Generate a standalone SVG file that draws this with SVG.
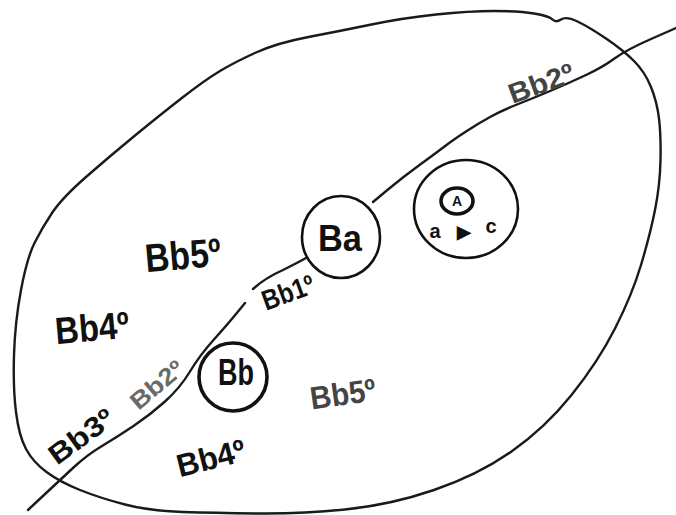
<svg xmlns="http://www.w3.org/2000/svg" width="676" height="515" viewBox="0 0 676 515">
<style>
.ln{fill:none;stroke:#1a1a1a;stroke-width:2.4;stroke-linecap:round;stroke-linejoin:round}
.ring{fill:none;stroke:#111;stroke-width:2.6}
.thick{fill:none;stroke:#111;stroke-width:3.6}
.lbl{font-family:"Liberation Sans",Arial,sans-serif;font-weight:bold;fill:#111}
.faint{fill:#6a6a6a}
.mid{fill:#444}
</style>
<rect width="676" height="515" fill="#fff"/>
<g id="region">
<path class="ln" d="M 256,52.5 Q 277,43 308.5,37 Q 340,31 371.5,24.5 Q 403,18 436,14.5 Q 469,11 494,11 Q 519,11 534,13.5 Q 549,16 552.5,19.5 Q 556,23 561,19.5 Q 566,16 577.5,21.5 Q 589,27 606,38.5 Q 623,50 634,61 Q 645,72 651,87 Q 657,102 659,118.5 Q 661,135 660.5,160 Q 660,185 655,210 Q 650,235 641,265 Q 632,295 615,328.5 Q 598,362 571.5,395 Q 545,428 511.5,451.5 Q 478,475 434,490 Q 390,505 345,509.5 Q 300,514 257.5,513.5 Q 215,513 182.5,512 Q 150,511 125,504.5 Q 100,498 80,490 Q 60,482 46.5,472 Q 33,462 26,449 Q 19,436 16,412 Q 13,388 14,355 Q 15,322 21,290 Q 27,258 34.5,243 Q 42,228 52,213 Q 62,198 86,177 Q 110,156 135,135.5 Q 160,115 182.5,97.5 Q 205,80 220,71 Q 235,62 256,52.5 Z"/>
</g>
<g id="connectors">
<path class="ln" d="M 28,510 L 44,495 Q 60,480 73.5,467.5 Q 87,455 102,446 Q 117,437 133.5,426 Q 150,415 165,401.5 Q 180,388 190,371.5 Q 200,355 213.5,340 Q 227,325 236,314 L 245,303"/>
<path class="ln" d="M 253,289 Q 265,278 283,270 Q 297,263 306,258"/>
<path class="ln" d="M 373,202 L 388,189.5 Q 403,177 419.5,165 Q 436,153 444.5,146.5 Q 453,140 466,131.5 Q 479,123 491,116.5 Q 503,110 519.5,103.5 Q 536,97 552.5,90 Q 569,83 586,75 Q 603,67 614.5,58.5 Q 626,50 651,39 L 676,28"/>
</g>
<g id="node-Ba">
<ellipse class="ring" cx="341" cy="237" rx="39" ry="41"/>
<text class="lbl" x="340" y="251" font-size="37" text-anchor="middle" textLength="44" lengthAdjust="spacingAndGlyphs">Ba</text>
</g>
<g id="node-A">
<ellipse class="ring" cx="466" cy="209" rx="52" ry="49"/>
<ellipse class="thick" cx="457" cy="201" rx="16" ry="13"/>
<text class="lbl" x="457" y="206" font-size="14" text-anchor="middle">A</text>
<text class="lbl" x="435" y="238" font-size="20" text-anchor="middle">a</text>
<text class="lbl" x="464" y="238" font-size="18" text-anchor="middle" font-family="DejaVu Sans">▶</text>
<text class="lbl" x="491" y="233" font-size="20" text-anchor="middle">c</text>
</g>
<g id="node-Bb">
<ellipse class="thick" cx="233" cy="377" rx="34" ry="34"/>
<text class="lbl" x="236" y="385" font-size="36" text-anchor="middle" textLength="36" lengthAdjust="spacingAndGlyphs">Bb</text>
</g>
<g id="labels">
<g transform="translate(183,255) rotate(-5)"><text class="lbl" x="0" y="14" font-size="40" text-anchor="middle" textLength="76" lengthAdjust="spacingAndGlyphs">Bb5º</text></g>
<g transform="translate(92,327) rotate(-5)"><text class="lbl" x="0" y="14" font-size="38" text-anchor="middle" textLength="74" lengthAdjust="spacingAndGlyphs">Bb4º</text></g>
<g transform="translate(288,292) rotate(-20)"><text class="lbl" x="0" y="10" font-size="28" text-anchor="middle" textLength="54" lengthAdjust="spacingAndGlyphs">Bb1º</text></g>
<g transform="translate(157,385) rotate(-40)"><text class="lbl faint" x="0" y="8" font-size="24" text-anchor="middle" textLength="62" lengthAdjust="spacingAndGlyphs">Bb2º</text></g>
<g transform="translate(81,436) rotate(-36)"><text class="lbl" x="0" y="10" font-size="28" text-anchor="middle" textLength="74" lengthAdjust="spacingAndGlyphs">Bb3º</text></g>
<g transform="translate(211,458) rotate(-14)"><text class="lbl" x="0" y="11" font-size="32" text-anchor="middle" textLength="70" lengthAdjust="spacingAndGlyphs">Bb4º</text></g>
<g transform="translate(343,394) rotate(-8)"><text class="lbl mid" x="0" y="11" font-size="32" text-anchor="middle" textLength="66" lengthAdjust="spacingAndGlyphs">Bb5º</text></g>
<g transform="translate(541,83) rotate(-20)"><text class="lbl mid" x="0" y="10" font-size="28" text-anchor="middle" textLength="68" lengthAdjust="spacingAndGlyphs">Bb2º</text></g>
</g>
</svg>
